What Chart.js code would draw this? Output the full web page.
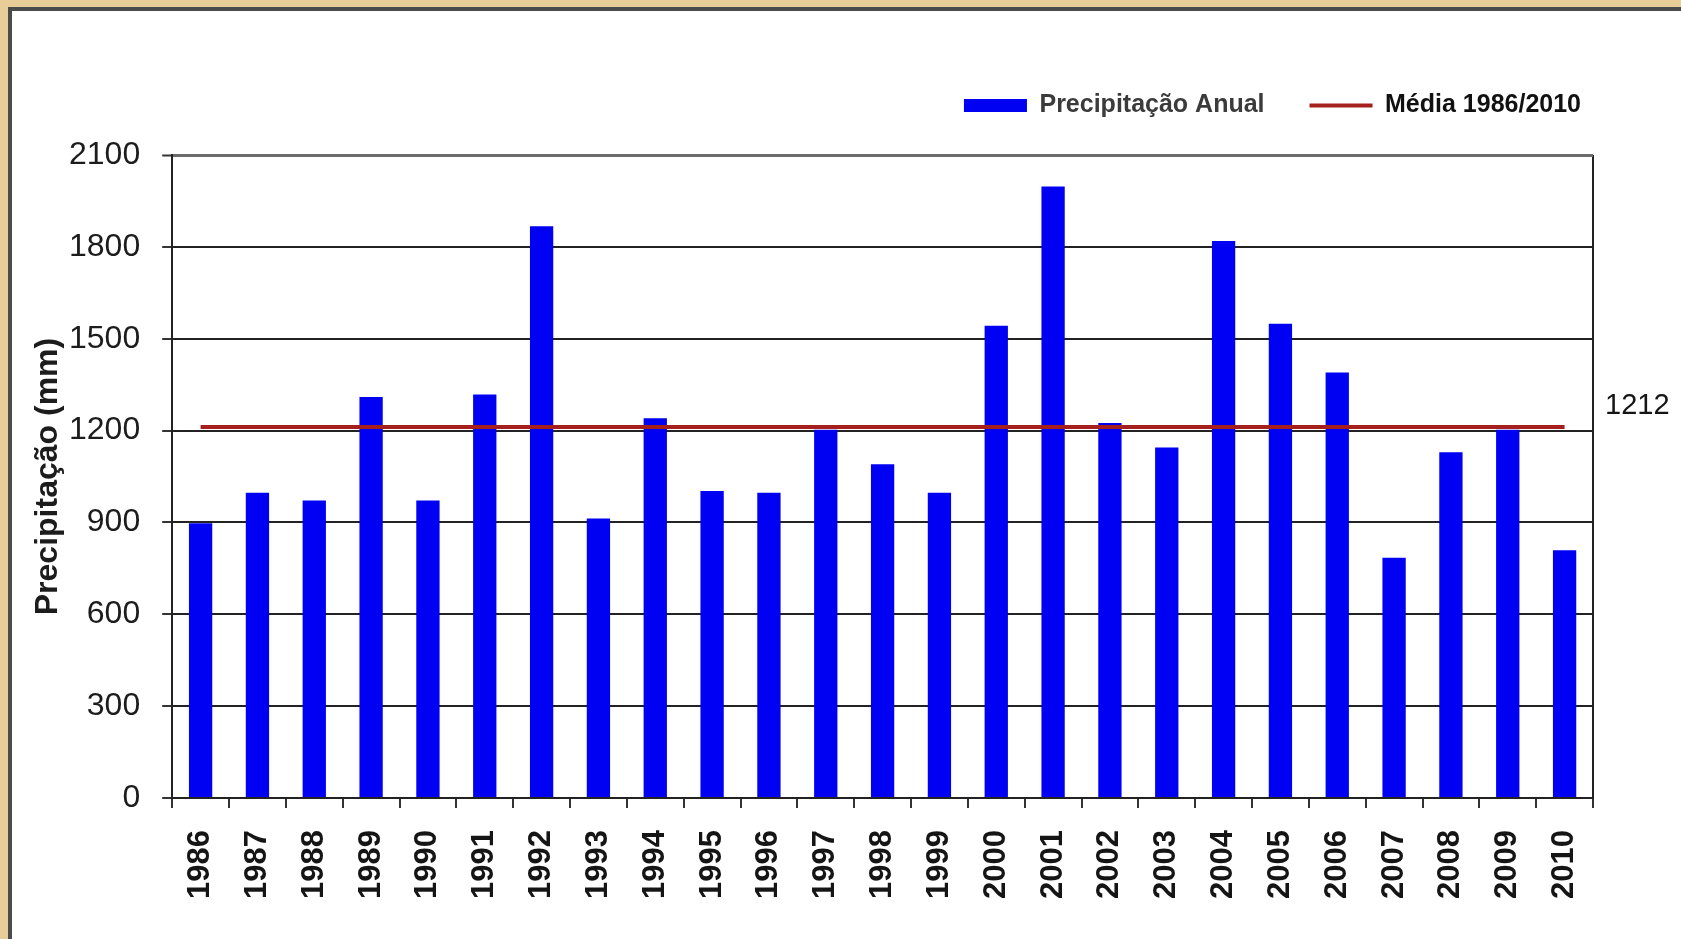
<!DOCTYPE html>
<html lang="pt">
<head>
<meta charset="utf-8">
<title>Precipitação Anual 1986–2010</title>
<script src="https://cdn.jsdelivr.net/npm/chart.js@4.4.0/dist/chart.umd.min.js"></script>
<style>
  html, body { margin: 0; padding: 0; width: 1681px; height: 939px; overflow: hidden; background: #e8cd98; }
  #frame {
    position: absolute; left: 8px; top: 7px; width: 1673px; height: 932px;
    background: #ffffff; border-left: 4px solid #4b4b4b; border-top: 4px solid #4b4b4b;
    box-sizing: border-box;
  }
  #wrap { position: absolute; left: 0; top: 0; width: 1681px; height: 939px; }
</style>
</head>
<body>
<div id="frame"></div>
<div id="wrap"><canvas id="chart" width="1681" height="939"></canvas></div>
<script>
// Annual rainfall (mm) per year and the 1986/2010 mean
const years = ['1986','1987','1988','1989','1990','1991','1992','1993','1994','1995',
               '1996','1997','1998','1999','2000','2001','2002','2003','2004','2005',
               '2006','2007','2008','2009','2010'];
const annualRain = [897, 997, 972, 1310, 972, 1318, 1867, 913, 1240, 1003,
                    997, 1203, 1090, 997, 1542, 1997, 1225, 1145, 1819, 1549,
                    1390, 785, 1129, 1203, 809];
const meanRain = 1212;
const meanSeries = years.map(() => meanRain);
const yTicks = [0, 300, 600, 900, 1200, 1500, 1800, 2100];

const FONT = "'Liberation Sans', Arial, sans-serif";

// Writes the mean value just right of the plot, beside the mean line
const meanLabel = {
  id: 'meanLabel',
  afterDraw(chart) {
    const { ctx, chartArea, scales } = chart;
    const y = scales.y.getPixelForValue(meanRain);
    ctx.save();
    ctx.font = `29px ${FONT}`;
    ctx.fillStyle = '#151515';
    ctx.textAlign = 'left';
    ctx.textBaseline = 'middle';
    ctx.fillText(String(meanRain), chartArea.right + 12, y - 21);
    ctx.restore();
  }
};

// Nudges the legend row a little to the right and up
const legendNudge = {
  id: 'legendNudge',
  afterLayout(chart) {
    const lg = chart.legend;
    if (!lg) return;
    lg.right += 33;
    lg.top -= 27;
    lg.bottom -= 27;
  }
};

new Chart(document.getElementById('chart'), {
  data: {
    labels: years,
    datasets: [
      {
        type: 'bar',
        label: 'Precipitação Anual',
        data: annualRain,
        backgroundColor: '#0000f2',
        borderWidth: 0,
        barPercentage: 0.41,
        categoryPercentage: 1,
        pointStyle: 'rect',
        order: 2
      },
      {
        type: 'line',
        label: 'Média 1986/2010',
        data: meanSeries,
        borderColor: '#a51f1c',
        backgroundColor: '#a51f1c',
        borderWidth: 4,
        pointRadius: 0,
        pointHoverRadius: 0,
        pointStyle: 'line',
        order: 1
      }
    ]
  },
  options: {
    responsive: false,
    animation: false,
    layout: { padding: { left: 16, right: 88, top: 75, bottom: 18 } },
    plugins: {
      tooltip: { enabled: false },
      legend: {
        position: 'top',
        align: 'end',
        labels: {
          usePointStyle: true,
          pointStyleWidth: 63,
          boxHeight: 13,
          padding: 45,
          font: { family: FONT, size: 25, weight: 'bold' },
          sort: (a, b) => a.datasetIndex - b.datasetIndex,
          generateLabels(chart) {
            const items = Chart.defaults.plugins.legend.labels.generateLabels(chart);
            items.forEach(it => { it.fontColor = it.datasetIndex === 0 ? '#3b3b3b' : '#111111'; });
            return items;
          }
        }
      }
    },
    scales: {
      x: {
        type: 'category',
        offset: true,
        border: { display: true, color: '#222', width: 2 },
        grid: {
          offset: true,
          drawOnChartArea: true,
          color: ctx => ctx.type === 'tick' ? 'rgba(0,0,0,0)' : '#222',
          lineWidth: 2,
          tickLength: 10,
          tickColor: '#333',
          tickWidth: 2
        },
        ticks: {
          minRotation: 90,
          maxRotation: 90,
          autoSkip: false,
          padding: 22,
          color: '#151515',
          font: { family: FONT, size: 31, weight: 'bold' }
        }
      },
      y: {
        min: 0,
        max: 2100,
        afterBuildTicks(scale) { scale.ticks = yTicks.map(v => ({ value: v })); },
        border: { display: true, color: '#222', width: 2 },
        grid: {
          color: ctx => (ctx.tick && ctx.tick.value === 2100) ? '#6c6c6c' : '#222',
          lineWidth: ctx => (ctx.tick && ctx.tick.value === 2100) ? 3 : 2,
          tickLength: 10,
          tickColor: '#333',
          tickWidth: 2
        },
        ticks: {
          padding: 22,
          color: '#1c1c1c',
          font: { family: FONT, size: 32 },
          callback: v => String(v)
        },
        title: {
          display: true,
          text: 'Precipitação (mm)',
          color: '#1c1c1c',
          font: { family: FONT, size: 32, weight: 'bold', lineHeight: 1 },
          padding: { top: 16, bottom: -17 }
        }
      }
    }
  },
  plugins: [meanLabel, legendNudge]
});
</script>
</body>
</html>
